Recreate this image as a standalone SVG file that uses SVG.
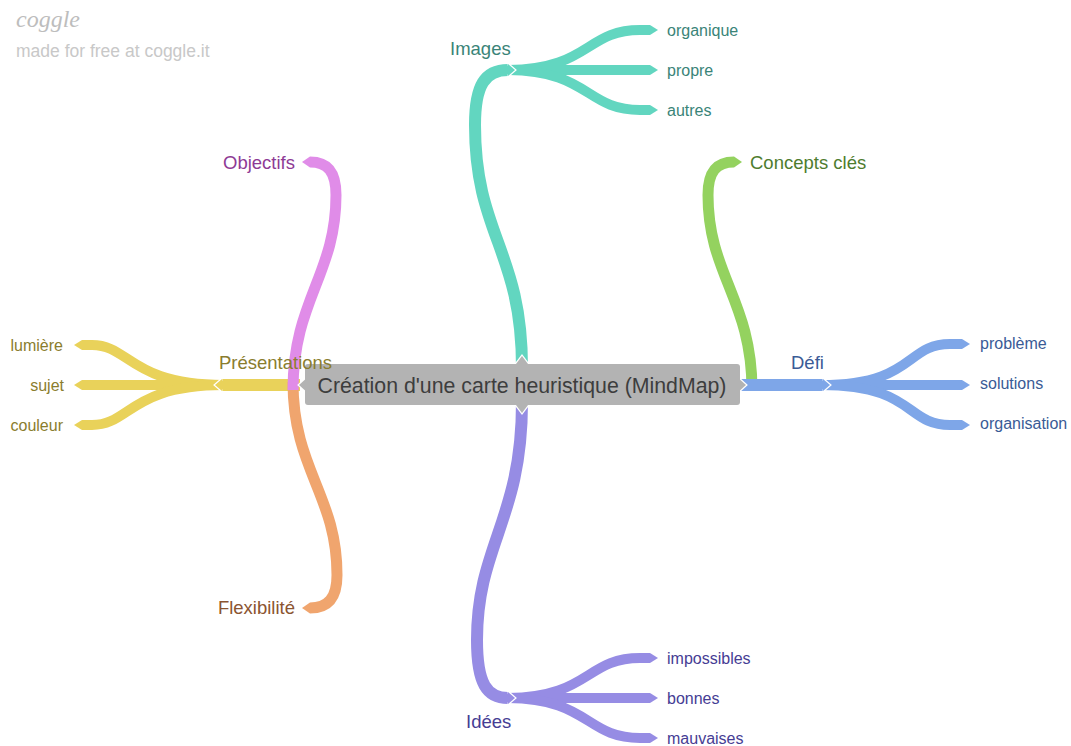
<svg xmlns="http://www.w3.org/2000/svg" width="1071" height="746" viewBox="0 0 1071 746">
  <style>
    .br { fill: none; stroke-linecap: butt; stroke-linejoin: round; }
    .trunk { stroke-width: 12; }
    .side { stroke-width: 11; }
    .leaf { stroke-width: 10; }
    .tip { stroke: #ffffff; stroke-width: 2.5; paint-order: stroke; stroke-linejoin: miter; }
    .lbl { font-family: "Liberation Sans", Arial, sans-serif; font-size: 18.5px; }
    .sub { font-family: "Liberation Sans", Arial, sans-serif; font-size: 16px; }
    .teal { stroke: #62d6c0; } .tealf { fill: #62d6c0; } .tealt { fill: #3a8478; }
    .pink { stroke: #e08ce8; } .pinkf { fill: #e08ce8; } .pinkt { fill: #8e3a95; }
    .yel { stroke: #e9d25a; } .yelf { fill: #e9d25a; } .yelt { fill: #8a7d2e; }
    .org { stroke: #f0a56e; } .orgf { fill: #f0a56e; } .orgt { fill: #8b5430; }
    .pur { stroke: #968ce4; } .purf { fill: #968ce4; } .purt { fill: #463d94; }
    .grn { stroke: #94d25f; } .grnf { fill: #94d25f; } .grnt { fill: #4e7c2e; }
    .blu { stroke: #7ea6e8; } .bluf { fill: #7ea6e8; } .blut { fill: #3a5b96; }
  </style>

  <!-- logo -->
  <g id="logo">
    <text x="16" y="27" font-family="'Liberation Serif', serif" font-style="italic" font-size="24" fill="#bdbdbd">coggle</text>
    <text x="16" y="57" font-family="'Liberation Sans', Arial, sans-serif" font-size="17.5" fill="#c8c8c8">made for free at coggle.it</text>
  </g>

  <g id="connectors">
    <!-- Présentations children -->
    <path class="br leaf yel" d="M224,385 C130,385 130,345 92,345 L82,345"/>
    <path class="br leaf yel" d="M224,385 L82,385"/>
    <path class="br leaf yel" d="M224,385 C130,385 130,425 92,425 L82,425"/>
    <path class="yelf" d="M82,340 L74,345 L82,350 Z"/>
    <path class="yelf" d="M82,380 L74,385 L82,390 Z"/>
    <path class="yelf" d="M82,420 L74,425 L82,430 Z"/>
    <!-- Présentations trunk -->
    <path class="br yel" stroke-width="12" d="M300,385 L222,385"/>
    <path class="yelf tip" d="M222,379 L215,385 L222,391"/>

    <!-- Flexibilité -->
    <path class="br side org" d="M293,382 C293,470 337,495 337,575 C337,598 328,608 310,608"/>
    <path class="orgf" d="M310,602.5 L302,608 L310,613.5 Z"/>

    <!-- Objectifs -->
    <path class="br side pink" d="M293,390 C293,300 336,275 336,195 C336,172 328,162 310,162"/>
    <path class="pinkf" d="M310,156.5 L302,162 L310,167.5 Z"/>

    <!-- Images children -->
    <path class="br leaf teal" d="M506,70 C590,70 585,30 640,30 L650,30"/>
    <path class="br leaf teal" d="M506,70 L650,70"/>
    <path class="br leaf teal" d="M506,70 C590,70 585,110 640,110 L650,110"/>
    <path class="tealf" d="M650,25 L658,30 L650,35 Z"/>
    <path class="tealf" d="M650,65 L658,70 L650,75 Z"/>
    <path class="tealf" d="M650,105 L658,110 L650,115 Z"/>
    <!-- Images trunk -->
    <path class="br trunk teal" d="M522,368 C522,250 475,235 475,125 C475,85 485,70 508,70"/>
    <path class="tealf tip" d="M508,64 L515,70 L508,76"/>

    <!-- Idées children -->
    <path class="br leaf pur" d="M506,698 C590,698 585,658 640,658 L650,658"/>
    <path class="br leaf pur" d="M506,698 L650,698"/>
    <path class="br leaf pur" d="M506,698 C590,698 585,738 640,738 L650,738"/>
    <path class="purf" d="M650,653 L658,658 L650,663 Z"/>
    <path class="purf" d="M650,693 L658,698 L650,703 Z"/>
    <path class="purf" d="M650,733 L658,738 L650,743 Z"/>
    <!-- Idées trunk -->
    <path class="br trunk pur" d="M522,402 C522,520 477,545 477,640 C477,684 487,698 508,698"/>
    <path class="purf tip" d="M508,692 L515,698 L508,704"/>

    <!-- Concepts clés -->
    <path class="br side grn" d="M752,390 C752,300 708,275 708,195 C708,172 716,162 734,162"/>
    <path class="grnf" d="M734,156.5 L742,162 L734,167.5 Z"/>

    <!-- Défi children -->
    <path class="br leaf blu" d="M821,385 C915,385 905,344 950,344 L962,344"/>
    <path class="br leaf blu" d="M821,385 L962,385"/>
    <path class="br leaf blu" d="M821,385 C915,385 905,425 950,425 L962,425"/>
    <path class="bluf" d="M962,339 L970,344 L962,349 Z"/>
    <path class="bluf" d="M962,380 L970,385 L962,390 Z"/>
    <path class="bluf" d="M962,420 L970,425 L962,430 Z"/>
    <!-- Défi trunk -->
    <path class="br blu" stroke-width="12" d="M740,385 L823,385"/>
    <path class="bluf tip" d="M823,379 L830,385 L823,391"/>
  </g>

  <!-- central topic -->
  <g id="root">
    <path fill="#b3b3b3" class="tip" d="M309,376 L299,385 L309,394"/>
    <path fill="#b3b3b3" class="tip" d="M736,376 L746,385 L736,394"/>
    <path fill="#b3b3b3" class="tip" d="M513,368 L522,356 L531,368"/>
    <path fill="#b3b3b3" class="tip" d="M513,401 L522,413 L531,401"/>
    <rect x="305" y="364" width="435" height="41" rx="3" fill="#b3b3b3"/>
    <text x="522" y="392.5" text-anchor="middle" font-family="'Liberation Sans', Arial, sans-serif" font-size="21.3" fill="#3d3d3d">Création d'une carte heuristique (MindMap)</text>
  </g>

  <g id="images">
    <text class="lbl tealt" x="450" y="55">Images</text>
  </g>
  <g id="organique"><text class="sub tealt" x="667" y="35.5">organique</text></g>
  <g id="propre"><text class="sub tealt" x="667" y="75.5">propre</text></g>
  <g id="autres"><text class="sub tealt" x="667" y="115.5">autres</text></g>

  <g id="objectifs"><text class="lbl pinkt" x="295" y="168.5" text-anchor="end">Objectifs</text></g>
  <g id="presentations"><text class="lbl yelt" x="219" y="368.5">Présentations</text></g>
  <g id="lumiere"><text class="sub yelt" x="63" y="350.5" text-anchor="end">lumière</text></g>
  <g id="sujet"><text class="sub yelt" x="64" y="390.5" text-anchor="end">sujet</text></g>
  <g id="couleur"><text class="sub yelt" x="63" y="430.5" text-anchor="end">couleur</text></g>
  <g id="flexibilite"><text class="lbl orgt" x="295" y="614" text-anchor="end">Flexibilité</text></g>

  <g id="idees"><text class="lbl purt" x="466" y="727.5">Idées</text></g>
  <g id="impossibles"><text class="sub purt" x="667" y="663.5">impossibles</text></g>
  <g id="bonnes"><text class="sub purt" x="667" y="703.5">bonnes</text></g>
  <g id="mauvaises"><text class="sub purt" x="667" y="743.5">mauvaises</text></g>

  <g id="concepts"><text class="lbl grnt" x="750" y="168.5">Concepts clés</text></g>
  <g id="defi"><text class="lbl blut" x="791" y="368.5">Défi</text></g>
  <g id="probleme"><text class="sub blut" x="980" y="348.5">problème</text></g>
  <g id="solutions"><text class="sub blut" x="980" y="388.5">solutions</text></g>
  <g id="organisation"><text class="sub blut" x="980" y="428.5">organisation</text></g>
</svg>
